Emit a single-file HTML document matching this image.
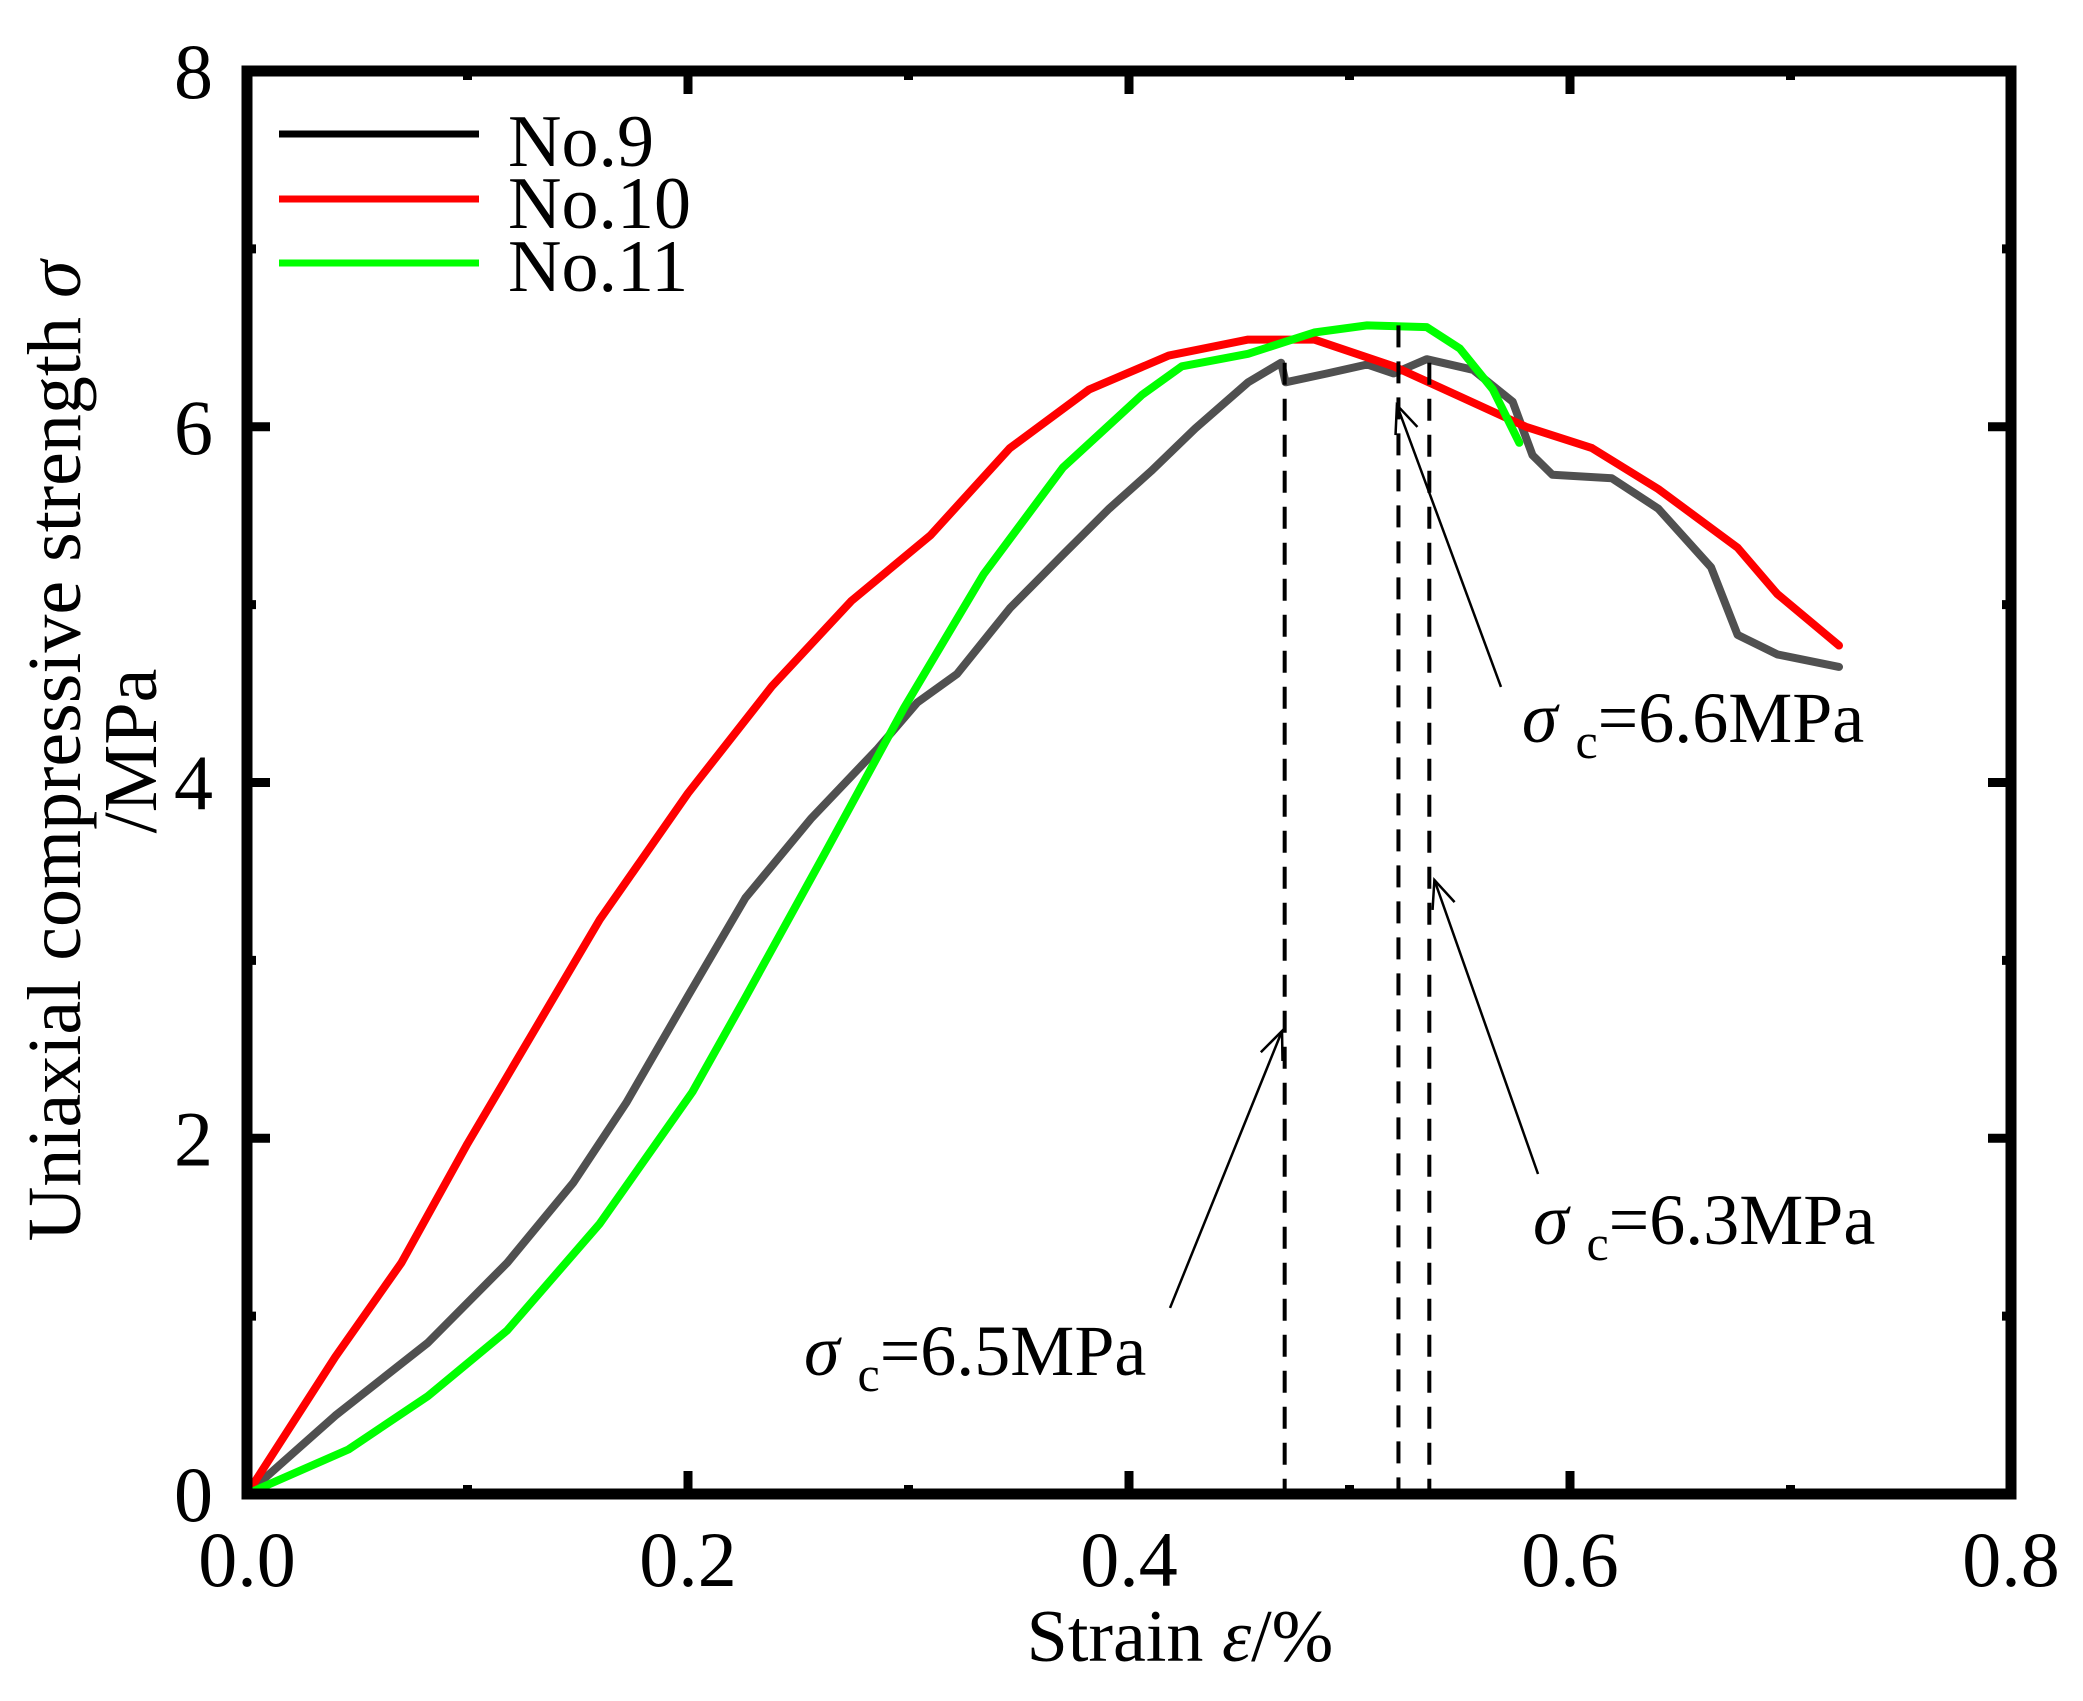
<!DOCTYPE html>
<html><head><meta charset="utf-8"><style>
html,body{margin:0;padding:0;background:#fff}
svg{display:block}
text{font-family:"Liberation Serif","DejaVu Serif",serif;fill:#000}
</style></head><body>
<svg id="chart" width="2083" height="1701" viewBox="0 0 2083 1701" xmlns="http://www.w3.org/2000/svg">
<g id="series"></g>
<g id="annot"></g>
<g id="axes"></g>
<g id="legend">
  <line x1="279" y1="134" x2="479" y2="134" stroke="#000" stroke-width="7"/>
  <text x="508" y="166" font-size="74">No.9</text>
  <line x1="279" y1="199" x2="479" y2="199" stroke="#ff0000" stroke-width="7"/>
  <text x="508" y="228" font-size="74">No.10</text>
  <line x1="279" y1="263" x2="479" y2="263" stroke="#00ff00" stroke-width="7"/>
  <text x="508" y="291" font-size="74">No.11</text>
</g>
<text x="1180" y="1661" font-size="74" text-anchor="middle">Strain <tspan font-style="italic">ε</tspan>/%</text>
<g transform="translate(58,751) rotate(-90)">
  <text x="0" y="22" font-size="76" text-anchor="middle">Uniaxial compressive strength <tspan font-style="italic">σ</tspan></text>
  <text x="0" y="98" font-size="76" text-anchor="middle">/MPa</text>
</g>
</svg>
<script>
const xTicks=[0,0.2,0.4,0.6,0.8];
const xTickLabels=["0.0","0.2","0.4","0.6","0.8"];
const yTicks=[0,2,4,6,8];
const yTickLabels=["0","2","4","6","8"];
const no9X=[0,0.04,0.082,0.118,0.148,0.172,0.2,0.226,0.256,0.286,0.304,0.322,0.346,0.37,0.391,0.41,0.43,0.454,0.469,0.471,0.49,0.508,0.52,0.535,0.556,0.574,0.583,0.592,0.619,0.64,0.664,0.676,0.694,0.722];
const no9Y=[0,0.44,0.85,1.3,1.75,2.2,2.8,3.35,3.8,4.19,4.45,4.61,4.98,5.28,5.54,5.75,5.99,6.25,6.36,6.25,6.3,6.35,6.3,6.38,6.32,6.14,5.84,5.73,5.71,5.54,5.21,4.83,4.72,4.65];
const no10X=[0,0.04,0.07,0.1,0.13,0.16,0.2,0.238,0.274,0.31,0.346,0.382,0.418,0.454,0.484,0.52,0.55,0.58,0.61,0.64,0.676,0.694,0.722];
const no10Y=[0,0.77,1.3,1.97,2.6,3.23,3.94,4.54,5.02,5.39,5.88,6.21,6.4,6.49,6.49,6.34,6.17,6.0,5.88,5.65,5.32,5.06,4.77];
const no11X=[0,0.046,0.082,0.118,0.16,0.202,0.226,0.262,0.298,0.334,0.37,0.406,0.424,0.454,0.484,0.508,0.535,0.55,0.565,0.577];
const no11Y=[0,0.25,0.55,0.92,1.52,2.26,2.79,3.6,4.42,5.17,5.77,6.18,6.34,6.41,6.53,6.57,6.56,6.44,6.21,5.91];
const peakX=[0.4706,0.5222,0.5362];
const peakY=[6.36,6.57,6.36];
const annLabels=["=6.5MPa","=6.6MPa","=6.3MPa"];
const annTextX=[0.2526,0.5782,0.5832];
const annTextY=[0.669,4.227,1.406];
const annTailX=[0.4186,0.5687,0.5855];
const annTailY=[1.046,4.537,1.799];
const annHeadX=[0.4694,0.5215,0.5385];
const annHeadY=[2.603,6.122,3.452];

const L=247,R=2011,T=71,B=1494;
const sx=v=>L+(v-0)/(0.8)*(R-L);
const sy=v=>B-(v/8)*(B-T);
const NS="http://www.w3.org/2000/svg";
function mk(tag,attrs,parent){const e=document.createElementNS(NS,tag);for(const k in attrs)e.setAttribute(k,attrs[k]);parent.appendChild(e);return e;}

const series=document.getElementById('series');
function drawLine(xs,ys,color,name){
  const d=xs.map((x,i)=>(i?'L':'M')+sx(x).toFixed(1)+' '+sy(ys[i]).toFixed(1)).join(' ');
  const p=mk('path',{d:d,fill:'none',stroke:color,'stroke-width':8,'stroke-linejoin':'round','stroke-linecap':'round'},series);
  
  
}
drawLine(no9X,no9Y,'#505050','series-no9');
drawLine(no10X,no10Y,'#ff0000','series-no10');
drawLine(no11X,no11Y,'#00ff00','series-no11');

const annot=document.getElementById('annot');
peakX.forEach((px,i)=>{
  const l=mk('line',{x1:sx(px),y1:sy(peakY[i]),x2:sx(px),y2:B,stroke:'#000','stroke-width':4,'stroke-dasharray':'22,14'},annot);
  
  
});
annLabels.forEach((lab,i)=>{
  const hx=sx(annHeadX[i]),hy=sy(annHeadY[i]),tx=sx(annTailX[i]),ty=sy(annTailY[i]);
  const a=mk('line',{x1:tx,y1:ty,x2:hx,y2:hy,stroke:'#000','stroke-width':2.5},annot);
  
  
  const ang=Math.atan2(ty-hy,tx-hx),len=30,sp=0.4;
  const h=mk('path',{d:`M${hx+len*Math.cos(ang+sp)} ${hy+len*Math.sin(ang+sp)} L${hx} ${hy} L${hx+len*Math.cos(ang-sp)} ${hy+len*Math.sin(ang-sp)}`,fill:'none',stroke:'#000','stroke-width':2.5},annot);
  
  
  const t=mk('text',{x:sx(annTextX[i]),y:sy(annTextY[i]),'font-size':72},annot);
  
  
  const s1=mk('tspan',{'font-style':'italic'},t);s1.textContent='σ ';
  const s2=mk('tspan',{'font-size':50,dy:16},t);s2.textContent='c';
  const s3=mk('tspan',{dy:-16},t);s3.textContent=lab;
});

const axes=document.getElementById('axes');
const fr=mk('rect',{x:L,y:T,width:R-L,height:B-T,fill:'none',stroke:'#000','stroke-width':11},axes);


for(let k=0;k<=8;k++){
  const v=k*0.1,x=sx(v),len=(k%2===0)?23:9;
  const t1=mk('line',{x1:x,y1:B,x2:x,y2:B-len,stroke:'#000','stroke-width':9},axes);
  
  
  const t2=mk('line',{x1:x,y1:T,x2:x,y2:T+len,stroke:'#000','stroke-width':9},axes);
  
  
}
for(let k=0;k<=8;k++){
  const y=sy(k),len=(k%2===0)?23:9;
  const t1=mk('line',{x1:L,y1:y,x2:L+len,y2:y,stroke:'#000','stroke-width':9},axes);
  
  
  const t2=mk('line',{x1:R,y1:y,x2:R-len,y2:y,stroke:'#000','stroke-width':9},axes);
  
  
}
xTicks.forEach((v,i)=>{
  const t=mk('text',{x:sx(v),y:1586,'font-size':78,'text-anchor':'middle'},axes);
  
  
  t.textContent=xTickLabels[i];
});
yTicks.forEach((v,i)=>{
  const t=mk('text',{x:213,y:sy(v)+27,'font-size':78,'text-anchor':'end'},axes);
  
  
  t.textContent=yTickLabels[i];
});
</script>
</body></html>
